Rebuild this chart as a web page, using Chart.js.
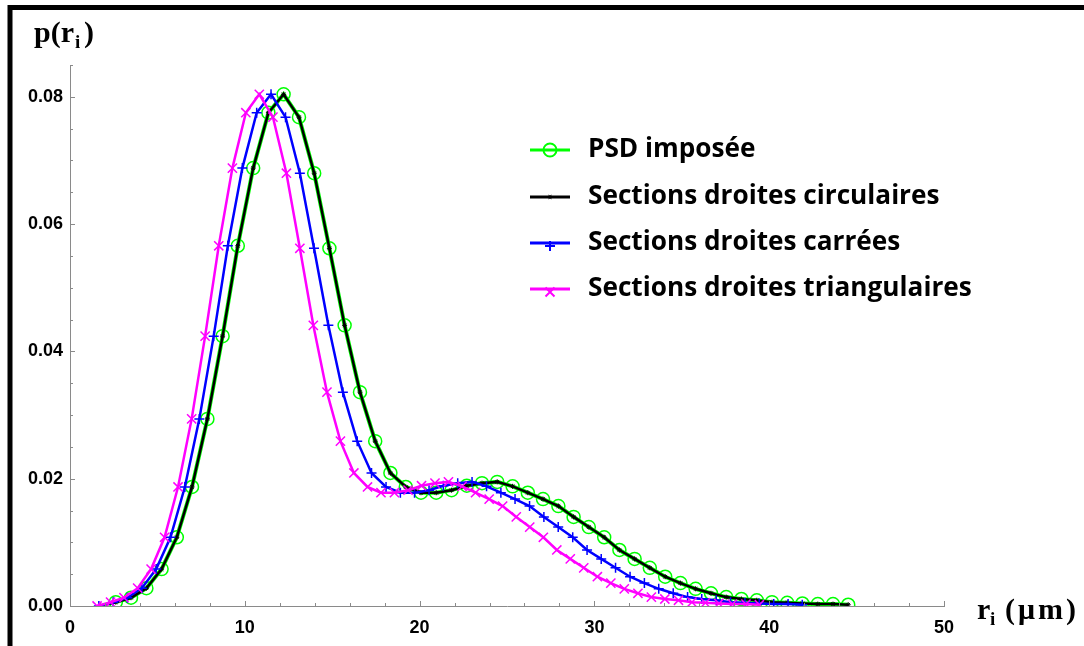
<!DOCTYPE html>
<html>
<head>
<meta charset="utf-8">
<script src="https://cdn.jsdelivr.net/npm/chart.js"></script>
<style>
  html, body { margin: 0; padding: 0; background: #fff; }
  #wrap { width: 1084px; height: 646px; position: relative; }
</style>
</head>
<body>
<div id="wrap"><canvas id="psd"></canvas></div>
<script>
// radius classes r_i (µm) for the imposed PSD / circular sections
let rPSD = [2.62, 3.49, 4.37, 5.24, 6.11, 6.98, 7.86, 8.73, 9.60, 10.48,
  11.35, 12.22, 13.10, 13.97, 14.84, 15.71, 16.59, 17.46, 18.33, 19.21,
  20.08, 20.95, 21.83, 22.70, 23.57, 24.44, 25.32, 26.19, 27.06, 27.94,
  28.81, 29.68, 30.56, 31.43, 32.30, 33.17, 34.05, 34.92, 35.79, 36.67,
  37.54, 38.41, 39.29, 40.16, 41.03, 41.90, 42.78, 43.65, 44.52];

let pPSD = [0.0006, 0.0013, 0.0028, 0.0058, 0.0108, 0.0187, 0.0294, 0.0424, 0.0566, 0.0688,
  0.0775, 0.0804, 0.0768, 0.0680, 0.0562, 0.0441, 0.0336, 0.0259, 0.0209, 0.0187,
  0.0178, 0.0178, 0.0182, 0.0189, 0.0193, 0.0195, 0.0188, 0.0178, 0.0168, 0.0157,
  0.0140, 0.0124, 0.0108, 0.0088, 0.0074, 0.0060, 0.0046, 0.0036, 0.0027, 0.0020,
  0.0014, 0.0011, 0.0009, 0.0006, 0.0005, 0.0004, 0.0003, 0.0003, 0.0002];

// the three section shapes start one class earlier (zero there)
let rCirc = [1.75, 2.62, 3.49, 4.37, 5.24, 6.11, 6.98, 7.86, 8.73, 9.60, 10.48,
  11.35, 12.22, 13.10, 13.97, 14.84, 15.71, 16.59, 17.46, 18.33, 19.21,
  20.08, 20.95, 21.83, 22.70, 23.57, 24.44, 25.32, 26.19, 27.06, 27.94,
  28.81, 29.68, 30.56, 31.43, 32.30, 33.17, 34.05, 34.92, 35.79, 36.67,
  37.54, 38.41, 39.29, 40.16, 41.03, 41.90, 42.78, 43.65, 44.52];

let rCarre = [1.65, 2.47, 3.28, 4.11, 4.93, 5.75, 6.57, 7.40, 8.22, 9.03, 9.86,
  10.68, 11.50, 12.33, 13.15, 13.96, 14.78, 15.61, 16.43, 17.25, 18.08,
  18.90, 19.71, 20.54, 21.36, 22.18, 23.00, 23.83, 24.65, 25.46, 26.29,
  27.11, 27.93, 28.76, 29.58, 30.39, 31.21, 32.04, 32.86, 33.68, 34.51,
  35.33, 36.14, 36.97, 37.79, 38.61, 39.43, 40.26, 41.08, 41.89];

let rTri = [1.55, 2.32, 3.09, 3.87, 4.64, 5.41, 6.18, 6.96, 7.73, 8.51, 9.29,
  10.06, 10.83, 11.61, 12.38, 13.15, 13.92, 14.70, 15.47, 16.24, 17.02,
  17.79, 18.56, 19.34, 20.11, 20.88, 21.65, 22.43, 23.20, 23.98, 24.75,
  25.53, 26.30, 27.08, 27.85, 28.62, 29.39, 30.17, 30.94, 31.71, 32.49,
  33.26, 34.03, 34.81, 35.58, 36.35, 37.12, 37.90, 38.67, 39.44];

// same probabilities, plotted against each equivalent radius
let pSections = [0].concat(pPSD);

let yTicks = [0, 0.02, 0.04, 0.06, 0.08];
let xTicks = [0, 10, 20, 30, 40, 50];

let legendItems = [
  { text: "PSD imposée", color: "#00ff00", marker: "circle" },
  { text: "Sections droites circulaires", color: "#000000", marker: "star" },
  { text: "Sections droites carrées", color: "#0000ff", marker: "cross" },
  { text: "Sections droites triangulaires", color: "#ff00ff", marker: "crossRot" }
];

function toPoints(xs, ys) {
  return xs.map((x, i) => ({ x: x, y: ys[i] }));
}

function drawMarker(ctx, type, x, y, color) {
  ctx.save();
  ctx.strokeStyle = color;
  ctx.lineWidth = 2;
  ctx.beginPath();
  if (type === "circle") {
    ctx.arc(x, y, 6.5, 0, Math.PI * 2);
  } else if (type === "cross") {
    ctx.moveTo(x - 5, y); ctx.lineTo(x + 5, y);
    ctx.moveTo(x, y - 5); ctx.lineTo(x, y + 5);
  } else if (type === "crossRot") {
    ctx.moveTo(x - 4.5, y - 4.5); ctx.lineTo(x + 4.5, y + 4.5);
    ctx.moveTo(x + 4.5, y - 4.5); ctx.lineTo(x - 4.5, y + 4.5);
  } else {
    ctx.lineWidth = 1;
    for (let a = 0; a < 3; a++) {
      let t = a * Math.PI / 3;
      ctx.moveTo(x - 2.5 * Math.cos(t), y - 2.5 * Math.sin(t));
      ctx.lineTo(x + 2.5 * Math.cos(t), y + 2.5 * Math.sin(t));
    }
  }
  ctx.stroke();
  ctx.restore();
}

// text with a little extra room between characters
function spacedText(ctx, str, x, y, gap) {
  for (let ch of str) {
    ctx.fillText(ch, x, y);
    x += ctx.measureText(ch).width + gap;
  }
}

// inward ticks, axis titles, legend and the outer frame
const decorations = {
  id: "decorations",
  afterDraw(chart) {
    const ctx = chart.ctx;
    const xs = chart.scales.x, ys = chart.scales.y;
    ctx.save();
    ctx.strokeStyle = "#8a8a8a";
    ctx.lineWidth = 1;
    for (let i = 0; i <= 25; i++) {
      let px = Math.round(xs.getPixelForValue(i * 2)) + 0.5;
      let len = i % 5 === 0 ? 5 : 3;
      ctx.beginPath();
      ctx.moveTo(px, xs.top);
      ctx.lineTo(px, xs.top - len);
      ctx.stroke();
    }
    for (let i = 0; i <= 17; i++) {
      let py = Math.round(ys.getPixelForValue(i * 0.005)) + 0.5;
      let len = i % 4 === 0 ? 5 : 3;
      ctx.beginPath();
      ctx.moveTo(ys.right, py);
      ctx.lineTo(ys.right + len, py);
      ctx.stroke();
    }

    // axis titles
    ctx.fillStyle = "#000";
    ctx.textBaseline = "alphabetic";
    ctx.textAlign = "left";
    ctx.font = 'bold 30px "Liberation Serif"';
    ctx.fillText("p(r", 34, 42);
    let w = ctx.measureText("p(r").width;
    ctx.font = 'bold 19px "Liberation Serif"';
    ctx.fillText("i", 34 + w + 1, 48);
    ctx.font = 'bold 30px "Liberation Serif"';
    ctx.fillText(")", 34 + w + 10, 42);

    ctx.fillText("r", 977, 619);
    ctx.font = 'bold 19px "Liberation Serif"';
    ctx.fillText("i", 990, 625);
    ctx.font = 'bold 30px "Liberation Serif"';
    spacedText(ctx, "(μm)", 1005, 619, 3);

    // legend, text sized to span the same box as the original
    ctx.font = 'bold 21px "Open Sans"';
    let longest = ctx.measureText(legendItems[3].text).width;
    let size = 21 * 384 / longest;
    let rows = [150, 197, 243, 289];
    legendItems.forEach((item, i) => {
      let y = rows[i];
      ctx.strokeStyle = item.color;
      ctx.lineWidth = 3;
      ctx.beginPath();
      ctx.moveTo(530, y);
      ctx.lineTo(570, y);
      ctx.stroke();
      drawMarker(ctx, item.marker, 550, y + (item.marker === "circle" || item.marker === "star" ? 0 : 3), item.color);
      ctx.fillStyle = "#000";
      ctx.font = "bold " + size.toFixed(1) + 'px "Open Sans"';
      ctx.textBaseline = "middle";
      ctx.fillText(item.text, 588, y);
    });

    // frame (only left and top edges remain in the crop)
    ctx.strokeStyle = "#000";
    ctx.lineWidth = 5;
    ctx.beginPath();
    ctx.moveTo(10, 646);
    ctx.lineTo(10, 7.5);
    ctx.lineTo(1084, 7.5);
    ctx.stroke();
    ctx.restore();
  }
};

const ctx = document.getElementById("psd");

const myChart = new Chart(ctx, {
  type: "line",
  data: {
    datasets: [
      {
        label: legendItems[0].text,
        data: toPoints(rPSD, pPSD),
        borderColor: "#00ff00",
        borderWidth: 4,
        pointStyle: "circle",
        pointRadius: 6.5,
        pointBorderWidth: 1.5,
        pointBorderColor: "#00ff00",
        pointBackgroundColor: "rgba(0,0,0,0)",
        order: 4
      },
      {
        label: legendItems[1].text,
        data: toPoints(rCirc, pSections),
        borderColor: "#000000",
        borderWidth: 2.5,
        pointStyle: "star",
        pointRadius: 2.5,
        pointBorderWidth: 1,
        pointBorderColor: "#000000",
        pointBackgroundColor: "#000000",
        order: 3
      },
      {
        label: legendItems[2].text,
        data: toPoints(rCarre, pSections),
        borderColor: "#0000ff",
        borderWidth: 2.5,
        pointStyle: "cross",
        pointRadius: 5,
        pointBorderWidth: 1.5,
        pointBorderColor: "#0000ff",
        order: 2
      },
      {
        label: legendItems[3].text,
        data: toPoints(rTri, pSections),
        borderColor: "#ff00ff",
        borderWidth: 2.5,
        pointStyle: "crossRot",
        pointRadius: 6.5,
        pointBorderWidth: 1.5,
        pointBorderColor: "#ff00ff",
        order: 1
      }
    ]
  },
  options: {
    responsive: true,
    maintainAspectRatio: false,
    animation: false,
    clip: 0,
    layout: { padding: { left: 0, top: 65, right: 140, bottom: 0 } },
    elements: { line: { tension: 0, fill: false } },
    plugins: {
      legend: { display: false },
      tooltip: { enabled: false }
    },
    scales: {
      x: {
        type: "linear",
        min: 0,
        max: 50,
        afterFit: (scale) => { scale.height = 40; },
        afterBuildTicks: (scale) => { scale.ticks = xTicks.map(v => ({ value: v })); },
        grid: { display: false, drawTicks: false },
        border: { display: true, color: "#8a8a8a", width: 1 },
        ticks: {
          padding: 11,
          color: "#000",
          maxRotation: 0,
          font: { family: "Liberation Sans", size: 18, weight: "bold" }
        }
      },
      y: {
        type: "linear",
        min: 0,
        max: 0.085,
        afterFit: (scale) => { scale.width = 70; },
        afterBuildTicks: (scale) => { scale.ticks = yTicks.map(v => ({ value: v })); },
        grid: { display: false, drawTicks: false },
        border: { display: true, color: "#8a8a8a", width: 1 },
        ticks: {
          padding: 7,
          color: "#000",
          font: { family: "Liberation Sans", size: 18, weight: "bold" },
          callback: (v) => Number(v).toFixed(2)
        }
      }
    }
  },
  plugins: [decorations]
});
</script>
</body>
</html>
